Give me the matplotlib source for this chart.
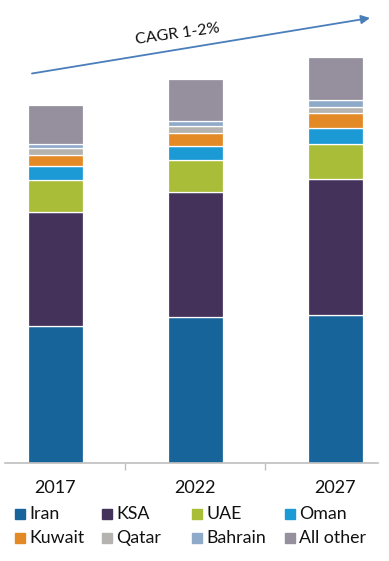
import matplotlib.pyplot as plt
from matplotlib.patches import Rectangle
import numpy as np

plt.rcParams['font.family'] = ['Lato', 'DejaVu Sans']

years = ['2017', '2022', '2027']
countries = ['Iran', 'KSA', 'UAE', 'Oman', 'Kuwait', 'Qatar', 'Bahrain', 'All other']
colors = ['#17649a', '#44325a', '#a9bd38', '#1b9ad6', '#e38a27', '#b4b3b0', '#8fa9c9', '#958f9e']

# segment heights (arbitrary units)
iran = [137, 146, 148]
ksa = [114.3, 124.7, 135.7]
uae = [31.7, 32, 35]
oman = [13.7, 14, 16]
kuwait = [11, 13.6, 15.6]
qatar = [7, 7, 6]
bahrain = [4, 5, 6.4]
all_other = [39.3, 41.7, 43.3]
series = [iran, ksa, uae, oman, kuwait, qatar, bahrain, all_other]

W, H = 389, 561
fig = plt.figure(figsize=(W / 100, H / 100), dpi=100)
ax = fig.add_axes([5 / W, (H - 463) / H, 373 / W, 463 / H])

x = np.arange(len(years))
bottom = np.zeros(len(years))
for vals, c in zip(series, colors):
    ax.bar(x, vals, 0.395, bottom=bottom, color=c, edgecolor='white', linewidth=0.9)
    bottom += np.array(vals)

ax.set_xlim(-0.36, 2.305)
ax.set_ylim(0, 463)
for s in ['top', 'right', 'left']:
    ax.spines[s].set_visible(False)
ax.spines['bottom'].set_color('#bfbfbf')
ax.spines['bottom'].set_linewidth(1.2)
ax.set_yticks([])
ax.set_xticks([0.5, 1.5])
ax.set_xticklabels([])
ax.tick_params(axis='x', which='major', direction='out', length=5, color='#bfbfbf', width=1)
ax.set_xticks(x, minor=True)
ax.set_xticklabels(years, minor=True, fontsize=13, color='#111111')
ax.tick_params(axis='x', which='minor', length=0, pad=12.5)

# legend, laid out by hand in two rows of four
col_x = [15, 102, 192, 285]
row_y = [514, 538]
for i, (name, c) in enumerate(zip(countries, colors)):
    px = col_x[i % 4]
    py = row_y[i // 4]
    fig.add_artist(Rectangle((px / W, (H - py - 5) / H), 10 / W, 10 / H,
                             transform=fig.transFigure, color=c))
    fig.text((px + 14) / W, (H - py) / H, name, fontsize=12.8,
             va='center', ha='left', color='#111111')

# growth arrow
ax.annotate('', xy=(370, H - 18), xytext=(32, H - 73.5),
            xycoords='figure pixels', textcoords='figure pixels',
            arrowprops=dict(arrowstyle='-|>', color='#4a7ebb', lw=1.3,
                            mutation_scale=13, shrinkA=0, shrinkB=0))
fig.text(178 / W, (H - 34) / H, 'CAGR 1-2%', fontsize=11.5, rotation=8,
         ha='center', va='center', color='#111111')

fig.savefig('out.png', dpi=100)
